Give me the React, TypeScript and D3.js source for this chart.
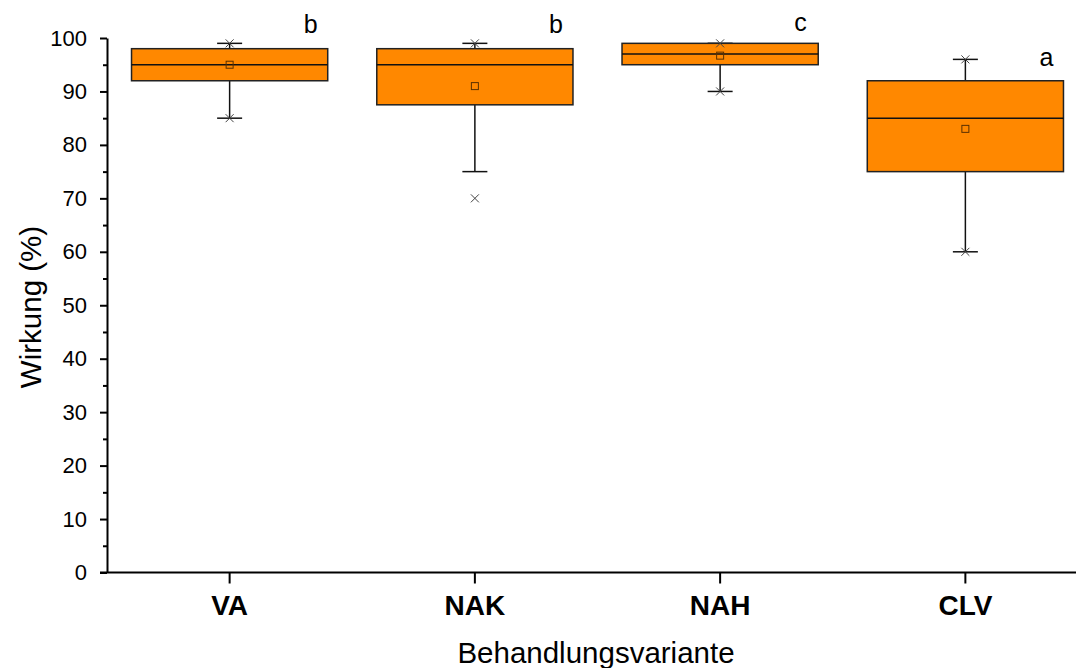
import { useEffect, useRef } from "react";
import * as d3 from "d3";

const WIDTH = 1076;
const HEIGHT = 668;
const MARGIN = { top: 38, right: -12, bottom: 95.5, left: 107 };

const categories = ["VA", "NAK", "NAH", "CLV"];
const q1 = [92, 87.5, 95, 75];
const medians = [95, 95, 97, 85];
const q3 = [98, 98, 99, 92];
const whiskerLow = [85, 75, 90, 60];
const whiskerHigh = [99, 99, 99, 96];
const means = [95, 91, 96.7, 83];
const minMarks = [85, 70, 90, 60];
const maxMarks = [99, 99, 99, 96];
const letters = ["b", "b", "c", "a"];
const letterPos = [101, 101, 101.3, 94.7];
const yTicks = [0, 10, 20, 30, 40, 50, 60, 70, 80, 90, 100];

const FONT = "'Liberation Sans', Arial, sans-serif";
const ORANGE = "#ff8800";

export default function App() {
  const svgRef = useRef<SVGSVGElement | null>(null);

  useEffect(() => {
    const svg = d3.select(svgRef.current);
    svg.selectAll("*").remove();

    const plotBottom = HEIGHT - MARGIN.bottom;
    const x = d3
      .scaleBand()
      .domain(categories)
      .range([MARGIN.left, 1088])
      .padding(0);
    const y = d3.scaleLinear().domain([0, 100]).range([plotBottom, MARGIN.top]);
    const boxW = x.bandwidth() * 0.8;
    const capW = 25;

    svg.append("rect").attr("width", WIDTH).attr("height", HEIGHT).attr("fill", "#ffffff");

    const plot = svg.append("g");

    categories.forEach((cat, i) => {
      const cx = (x(cat) as number) + x.bandwidth() / 2;

      // whiskers
      plot
        .append("line")
        .attr("x1", cx)
        .attr("x2", cx)
        .attr("y1", y(q3[i]))
        .attr("y2", y(whiskerHigh[i]))
        .attr("stroke", "#111")
        .attr("stroke-width", 1.5);
      plot
        .append("line")
        .attr("x1", cx)
        .attr("x2", cx)
        .attr("y1", y(q1[i]))
        .attr("y2", y(whiskerLow[i]))
        .attr("stroke", "#111")
        .attr("stroke-width", 1.5);
      [whiskerHigh[i], whiskerLow[i]].forEach((v) => {
        plot
          .append("line")
          .attr("x1", cx - capW / 2)
          .attr("x2", cx + capW / 2)
          .attr("y1", y(v))
          .attr("y2", y(v))
          .attr("stroke", "#111")
          .attr("stroke-width", 1.5);
      });

      // box
      plot
        .append("rect")
        .attr("x", cx - boxW / 2)
        .attr("y", y(q3[i]))
        .attr("width", boxW)
        .attr("height", y(q1[i]) - y(q3[i]))
        .attr("fill", ORANGE)
        .attr("stroke", "#222")
        .attr("stroke-width", 1.5);
      plot
        .append("line")
        .attr("x1", cx - boxW / 2)
        .attr("x2", cx + boxW / 2)
        .attr("y1", y(medians[i]))
        .attr("y2", y(medians[i]))
        .attr("stroke", "#111")
        .attr("stroke-width", 1.5);

      // mean
      plot
        .append("rect")
        .attr("x", cx - 3.5)
        .attr("y", y(means[i]) - 3.5)
        .attr("width", 7)
        .attr("height", 7)
        .attr("fill", "none")
        .attr("stroke", "#5a3000")
        .attr("stroke-width", 1);

      // min / max crosses
      [minMarks[i], maxMarks[i]].forEach((v) => {
        const s = 4;
        plot
          .append("path")
          .attr("d", `M${cx - s},${y(v) - s}L${cx + s},${y(v) + s}M${cx - s},${y(v) + s}L${cx + s},${y(v) - s}`)
          .attr("stroke", "#444")
          .attr("stroke-width", 1);
      });

      // significance letters
      svg
        .append("text")
        .attr("x", cx + 74)
        .attr("y", y(letterPos[i]))
        .attr("font-family", FONT)
        .attr("font-size", 25)
        .attr("fill", "#000")
        .text(letters[i]);
    });

    // y axis
    const yAxis = svg
      .append("g")
      .attr("transform", `translate(${MARGIN.left}, 0)`)
      .call(
        d3
          .axisLeft(y)
          .tickValues(d3.range(5, 100, 10))
          .tickSize(4)
          .tickFormat(() => "")
      )
      .call((g) => g.select(".domain").remove())
      .call((g) => g.selectAll("line").attr("stroke", "#000").attr("stroke-width", 2));

    svg
      .append("g")
      .attr("transform", `translate(${MARGIN.left}, 0)`)
      .call(d3.axisLeft(y).tickValues(yTicks).tickSize(7).tickPadding(13).tickSizeOuter(0))
      .call((g) => g.select(".domain").attr("stroke", "#000").attr("stroke-width", 2))
      .call((g) => g.selectAll("line").attr("stroke", "#000").attr("stroke-width", 2))
      .call((g) =>
        g
          .selectAll("text")
          .attr("font-family", FONT)
          .attr("font-size", 22)
          .attr("fill", "#000")
      );
    yAxis.raise();

    // x axis
    svg
      .append("line")
      .attr("x1", MARGIN.left - 7)
      .attr("x2", WIDTH)
      .attr("y1", plotBottom)
      .attr("y2", plotBottom)
      .attr("stroke", "#000")
      .attr("stroke-width", 2);
    svg
      .append("g")
      .attr("transform", `translate(0, ${plotBottom})`)
      .call(d3.axisBottom(x).tickSize(11).tickPadding(8).tickSizeOuter(0))
      .call((g) => g.select(".domain").remove())
      .call((g) => g.selectAll("line").attr("stroke", "#000").attr("stroke-width", 2))
      .call((g) =>
        g
          .selectAll("text")
          .attr("font-family", FONT)
          .attr("font-size", 28)
          .attr("font-weight", 700)
          .attr("fill", "#000")
          .attr("dy", null)
          .attr("y", 42)
      );

    // titles
    svg
      .append("text")
      .attr("x", 596)
      .attr("y", 663)
      .attr("text-anchor", "middle")
      .attr("font-family", FONT)
      .attr("font-size", 29.5)
      .attr("fill", "#000")
      .text("Behandlungsvariante");

    svg
      .append("text")
      .attr("transform", `translate(41, 307) rotate(-90)`)
      .attr("text-anchor", "middle")
      .attr("font-family", FONT)
      .attr("font-size", 29.5)
      .attr("fill", "#000")
      .text("Wirkung (%)");
  }, []);

  return (
    <div style={{ position: "absolute", left: 0, top: 0, width: WIDTH, height: HEIGHT, overflow: "hidden" }}>
      <svg ref={svgRef} width={WIDTH} height={HEIGHT} role="img" aria-label="Wirkung der Behandlungsvarianten" />
    </div>
  );
}
